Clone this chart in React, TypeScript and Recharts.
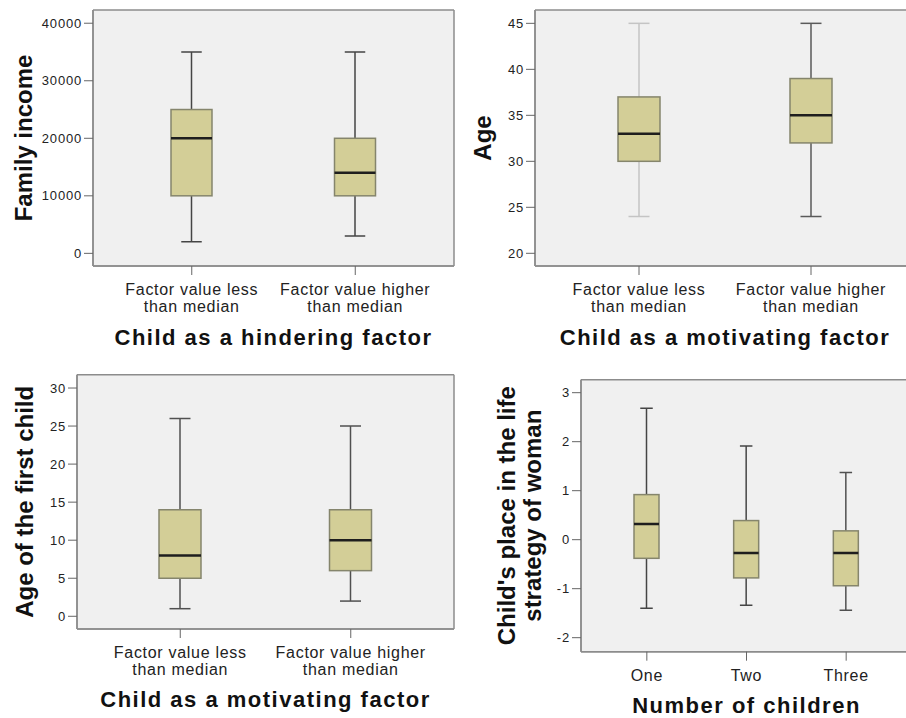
import React from 'react';
import { ComposedChart, Bar, XAxis, YAxis, CartesianGrid } from 'recharts';

// categories
const factorCategories = ['Factor value less\nthan median', 'Factor value higher\nthan median'];
const childrenCategories = ['One', 'Two', 'Three'];

// Family income vs "Child as a hindering factor"
const incomeMin = [2000, 3000];
const incomeQ1 = [10000, 10000];
const incomeMedian = [20000, 14000];
const incomeQ3 = [25000, 20000];
const incomeMax = [35000, 35000];
const incomeTicks = [0, 10000, 20000, 30000, 40000];

// Age vs "Child as a motivating factor"
const ageMin = [24, 24];
const ageQ1 = [30, 32];
const ageMedian = [33, 35];
const ageQ3 = [37, 39];
const ageMax = [45, 45];
const ageTicks = [20, 25, 30, 35, 40, 45];

// Age of the first child vs "Child as a motivating factor"
const firstChildMin = [1, 2];
const firstChildQ1 = [5, 6];
const firstChildMedian = [8, 10];
const firstChildQ3 = [14, 14];
const firstChildMax = [26, 25];
const firstChildTicks = [0, 5, 10, 15, 20, 25, 30];

// Child's place in the life strategy of woman vs number of children
const strategyMin = [-1.4, -1.34, -1.44];
const strategyQ1 = [-0.38, -0.78, -0.94];
const strategyMedian = [0.32, -0.27, -0.27];
const strategyQ3 = [0.92, 0.39, 0.18];
const strategyMax = [2.68, 1.91, 1.37];
const strategyTicks = [-2, -1, 0, 1, 2, 3];

const toRows = (cats: string[], min: number[], q1: number[], med: number[], q3: number[], max: number[]) =>
  cats.map((category, i) => ({ category, min: min[i], q1: q1[i], median: med[i], q3: q3[i], max: max[i] }));

const FONT = '"Liberation Sans", Arial, Helvetica, sans-serif';
const FRAME = '#8c8c8c';
const BOX_FILL = '#d3ce97';
const BOX_STROKE = '#85856c';

const BoxShape = (props: any) => {
  const { x, y, width, height, payload, whisker } = props;
  if (!payload) return null;
  const top = Math.min(y, y + height);
  const bottom = Math.max(y, y + height);
  const { min, q1, median, q3, max } = payload;
  const toY = (v: number) => bottom - ((v - min) / (max - min)) * (bottom - top);
  const cx = x + width / 2;
  const cap = width / 4;
  const yQ1 = toY(q1);
  const yQ3 = toY(q3);
  const yMed = toY(median);
  return (
    <g>
      <line x1={cx} x2={cx} y1={top} y2={yQ3} stroke={whisker} strokeWidth={1.5} />
      <line x1={cx} x2={cx} y1={yQ1} y2={bottom} stroke={whisker} strokeWidth={1.5} />
      <line x1={cx - cap} x2={cx + cap} y1={top} y2={top} stroke={whisker} strokeWidth={1.5} />
      <line x1={cx - cap} x2={cx + cap} y1={bottom} y2={bottom} stroke={whisker} strokeWidth={1.5} />
      <rect x={x} y={yQ3} width={width} height={yQ1 - yQ3} fill={BOX_FILL} stroke={BOX_STROKE} strokeWidth={1.5} />
      <line x1={x} x2={x + width} y1={yMed} y2={yMed} stroke="#1e1e1e" strokeWidth={2.5} />
    </g>
  );
};

const XTick = (props: any) => {
  const { x, y, payload } = props;
  const lines = String(payload.value).split('\n');
  return (
    <text x={x} y={y} textAnchor="middle" fill="#222" fontSize={16} letterSpacing={0.7}>
      {lines.map((l, i) => (
        <tspan key={i} x={x} dy={i === 0 ? 18 : 16.7}>
          {l}
        </tspan>
      ))}
    </text>
  );
};

const YTick = (props: any) => {
  const { x, y, payload } = props;
  return (
    <text x={x} y={y} dy="0.36em" textAnchor="end" fill="#222" fontSize={13} letterSpacing={0.8}>
      {payload.value}
    </text>
  );
};

const YTitle = ({ viewBox, lines, offsets }: any) => {
  if (!viewBox) return null;
  const cy = viewBox.y + viewBox.height / 2;
  return (
    <g>
      {lines.map((l: string, i: number) => {
        const bx = viewBox.x + offsets[i];
        return (
          <text key={i} x={bx} y={cy} transform={`rotate(-90 ${bx} ${cy})`} textAnchor="middle"
            fontSize={24} fontWeight="bold" fill="#111">
            {l}
          </text>
        );
      })}
    </g>
  );
};

const XTitle = ({ viewBox, text, offset }: any) => {
  if (!viewBox) return null;
  return (
    <text x={viewBox.x + viewBox.width / 2} y={viewBox.y + offset} textAnchor="middle"
      fontSize={22} fontWeight="bold" fill="#111" letterSpacing={1.5}>
      {text}
    </text>
  );
};

// frame lines on the edges of the plot area
const frameRows = ({ offset }: any) => [offset.top, offset.top + offset.height];
const frameCols = ({ offset }: any) => [offset.left, offset.left + offset.width];

const panels = [
  {
    key: 'income', left: 0, top: 0, width: 456, height: 359,
    margin: { top: 10, right: 2, bottom: 0, left: 0 }, yAxisWidth: 93, xAxisHeight: 93,
    pad: 17, barSize: 41, domain: [-2200, 42300], ticks: incomeTicks,
    rows: toRows(factorCategories, incomeMin, incomeQ1, incomeMedian, incomeQ3, incomeMax),
    whiskers: ['#454545', '#454545'],
    yTitle: ['Family income'], yOffsets: [31.7],
    xTitle: 'Child as a hindering factor', xOffset: 79,
  },
  {
    key: 'age', left: 453, top: 0, width: 462, height: 359,
    margin: { top: 10, right: 0, bottom: 0, left: 0 }, yAxisWidth: 82, xAxisHeight: 93,
    pad: 18, barSize: 42, domain: [18.62, 46.45], ticks: ageTicks,
    rows: toRows(factorCategories, ageMin, ageQ1, ageMedian, ageQ3, ageMax),
    whiskers: ['#c4c4c4', '#5a5a5a'],
    yTitle: ['Age'], yOffsets: [38],
    xTitle: 'Child as a motivating factor', xOffset: 79,
  },
  {
    key: 'firstChild', left: 0, top: 359, width: 456, height: 359,
    margin: { top: 15.7, right: 2, bottom: 0, left: 0 }, yAxisWidth: 77, xAxisHeight: 89,
    pad: 18, barSize: 42, domain: [-1.67, 31.75], ticks: firstChildTicks,
    rows: toRows(factorCategories, firstChildMin, firstChildQ1, firstChildMedian, firstChildQ3, firstChildMax),
    whiskers: ['#505050', '#505050'],
    yTitle: ['Age of the first child'], yOffsets: [33],
    xTitle: 'Child as a motivating factor', xOffset: 78.3,
  },
  {
    key: 'strategy', left: 453, top: 359, width: 459, height: 359,
    margin: { top: 20.7, right: 0, bottom: 0, left: 0 }, yAxisWidth: 128, xAxisHeight: 66.3,
    pad: 16, barSize: 25, domain: [-2.286, 3.265], ticks: strategyTicks,
    rows: toRows(childrenCategories, strategyMin, strategyQ1, strategyMedian, strategyQ3, strategyMax),
    whiskers: ['#454545', '#454545', '#505050'],
    yTitle: ["Child's place in the life", 'strategy of woman'], yOffsets: [62, 88],
    xTitle: 'Number of children', xOffset: 61.3,
  },
];

export default function App() {
  return (
    <div style={{ position: 'absolute', left: 0, top: 0, width: 906, height: 718, overflow: 'hidden', background: '#fff', fontFamily: FONT }}>
      {panels.map((p) => (
        <div key={p.key} style={{ position: 'absolute', left: p.left, top: p.top }}>
          <ComposedChart width={p.width} height={p.height} data={p.rows} margin={p.margin}>
            <CartesianGrid
              fill="#f0f0f0"
              stroke={FRAME}
              strokeWidth={1.5}
              horizontalCoordinatesGenerator={frameRows}
              verticalCoordinatesGenerator={frameCols}
            />
            <XAxis
              dataKey="category"
              height={p.xAxisHeight}
              padding={{ left: p.pad, right: p.pad }}
              interval={0}
              tickSize={9}
              tick={<XTick />}
              tickLine={{ stroke: '#666' }}
              axisLine={{ stroke: FRAME, strokeWidth: 1.5 }}
              label={(lp: any) => <XTitle viewBox={lp.viewBox} text={p.xTitle} offset={p.xOffset} />}
            />
            <YAxis
              type="number"
              domain={p.domain}
              ticks={p.ticks}
              allowDataOverflow
              width={p.yAxisWidth}
              tickSize={9}
              tick={<YTick />}
              tickLine={{ stroke: '#666' }}
              axisLine={{ stroke: FRAME, strokeWidth: 1.5 }}
              label={(lp: any) => <YTitle viewBox={lp.viewBox} lines={p.yTitle} offsets={p.yOffsets} />}
            />
            <Bar
              dataKey={(d: any) => [d.min, d.max]}
              barSize={p.barSize}
              isAnimationActive={false}
              shape={(sp: any) => <BoxShape {...sp} whisker={p.whiskers[sp.index]} />}
            />
          </ComposedChart>
        </div>
      ))}
    </div>
  );
}
